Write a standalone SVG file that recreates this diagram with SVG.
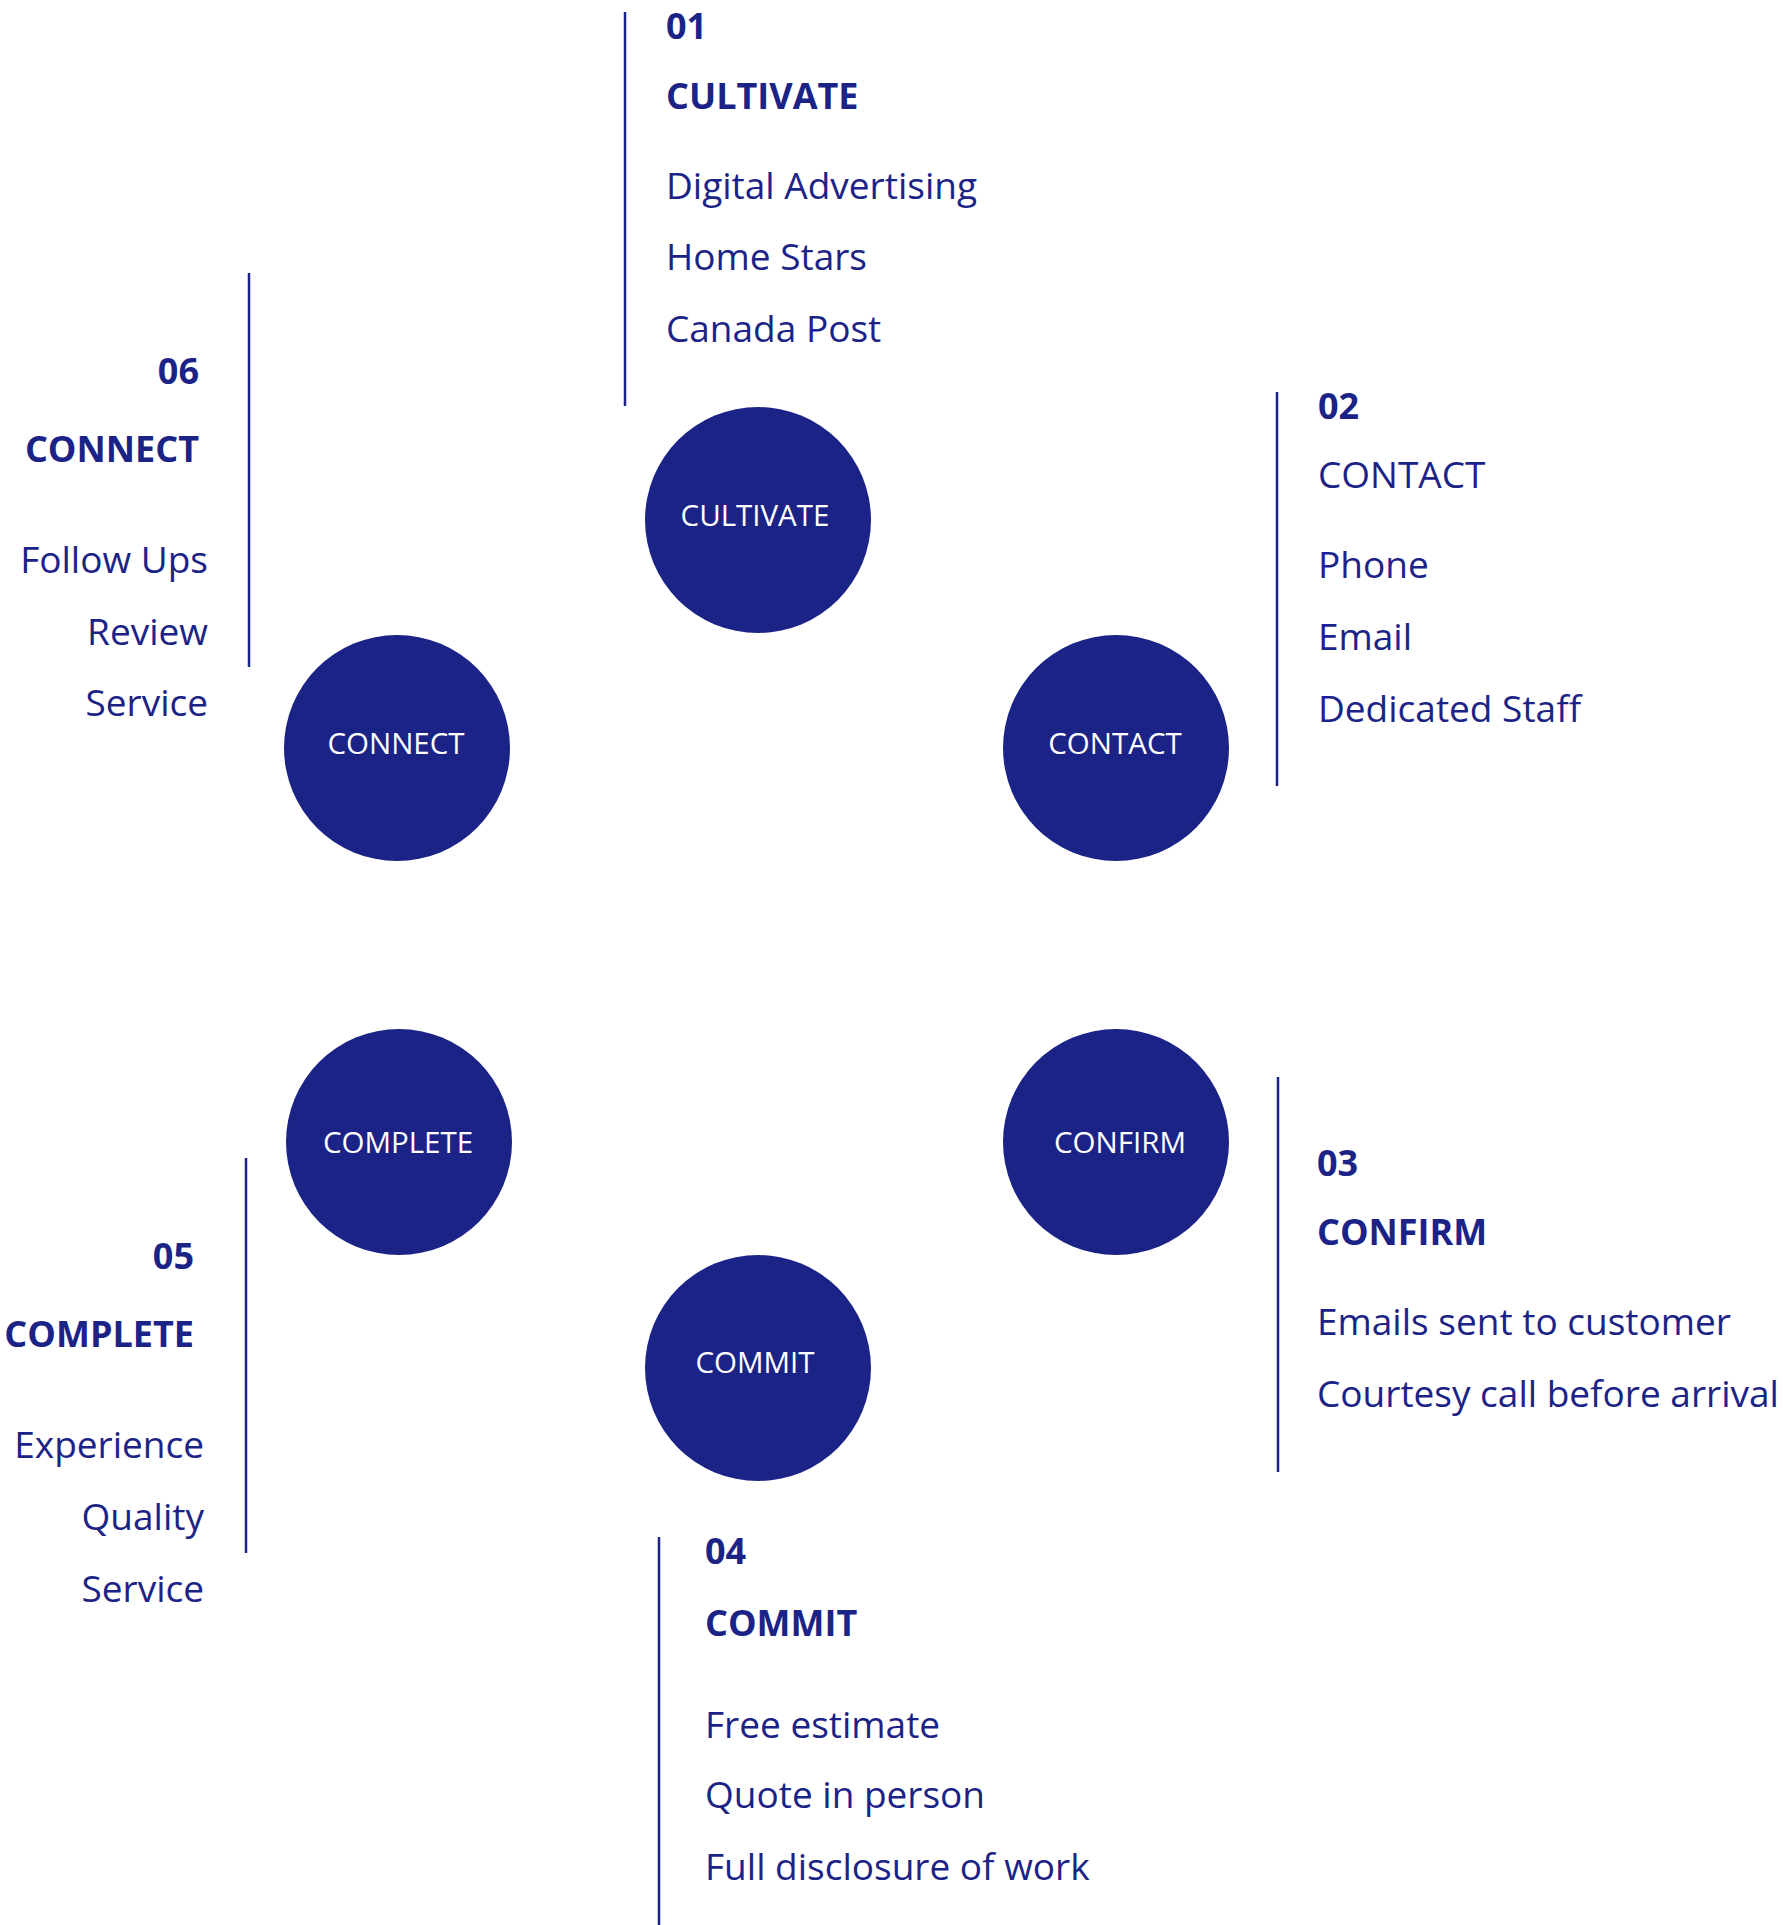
<svg xmlns="http://www.w3.org/2000/svg" width="1783" height="1925" viewBox="0 0 1783 1925">
<style>
  .bg { fill: #ffffff; }
  .dot { fill: #1c2387; }
  .lbl { fill: #ffffff; font-family: "Open Sans", "Liberation Sans", sans-serif; font-size: 29.5px; text-anchor: middle; }
  .num { fill: #1c2387; font-family: "Open Sans", "Liberation Sans", sans-serif; font-size: 36px; font-weight: bold; }
  .head { fill: #1c2387; font-family: "Open Sans", "Liberation Sans", sans-serif; font-size: 36px; font-weight: bold; }
  .headr { fill: #1c2387; font-family: "Open Sans", "Liberation Sans", sans-serif; font-size: 37px; }
  .item { fill: #1c2387; font-family: "Open Sans", "Liberation Sans", sans-serif; font-size: 37px; }
  .end { text-anchor: end; }
  .rule { stroke: #1c2387; stroke-width: 2.5; fill: none; }
</style>
<rect class="bg" x="0" y="0" width="1783" height="1925"/>

<g id="connectors">
  <line class="rule" x1="625" y1="12" x2="625" y2="406"/>
  <line class="rule" x1="1277" y1="392" x2="1277" y2="786"/>
  <line class="rule" x1="1278" y1="1077" x2="1278" y2="1472"/>
  <line class="rule" x1="659" y1="1537" x2="659" y2="1925"/>
  <line class="rule" x1="246" y1="1158" x2="246" y2="1553"/>
  <line class="rule" x1="249" y1="273" x2="249" y2="667"/>
</g>

<g id="node-cultivate">
  <circle class="dot" cx="758" cy="520" r="113"/>
  <text class="lbl" x="755" y="526">CULTIVATE</text>
</g>
<g id="node-contact">
  <circle class="dot" cx="1116" cy="748" r="113"/>
  <text class="lbl" x="1115" y="754">CONTACT</text>
</g>
<g id="node-confirm">
  <circle class="dot" cx="1116" cy="1142" r="113"/>
  <text class="lbl" x="1120" y="1153">CONFIRM</text>
</g>
<g id="node-commit">
  <circle class="dot" cx="758" cy="1368" r="113"/>
  <text class="lbl" x="755" y="1373">COMMIT</text>
</g>
<g id="node-complete">
  <circle class="dot" cx="399" cy="1142" r="113"/>
  <text class="lbl" x="398" y="1153">COMPLETE</text>
</g>
<g id="node-connect">
  <circle class="dot" cx="397" cy="748" r="113"/>
  <text class="lbl" x="396" y="754">CONNECT</text>
</g>

<g id="text-01">
  <text class="num" x="666" y="39">01</text>
  <text class="head" x="666" y="109">CULTIVATE</text>
  <text class="item" x="666" y="199">Digital Advertising</text>
  <text class="item" x="666" y="270">Home Stars</text>
  <text class="item" x="666" y="342">Canada Post</text>
</g>

<g id="text-02">
  <text class="num" x="1318" y="419">02</text>
  <text class="headr" x="1318" y="488">CONTACT</text>
  <text class="item" x="1318" y="578">Phone</text>
  <text class="item" x="1318" y="650">Email</text>
  <text class="item" x="1318" y="722">Dedicated Staff</text>
</g>

<g id="text-03">
  <text class="num" x="1317" y="1176">03</text>
  <text class="head" x="1317" y="1245">CONFIRM</text>
  <text class="item" x="1317" y="1335">Emails sent to customer</text>
  <text class="item" x="1317" y="1407">Courtesy call before arrival</text>
</g>

<g id="text-04">
  <text class="num" x="705" y="1564">04</text>
  <text class="head" x="705" y="1636">COMMIT</text>
  <text class="item" x="705" y="1738">Free estimate</text>
  <text class="item" x="705" y="1808">Quote in person</text>
  <text class="item" x="705" y="1880">Full disclosure of work</text>
</g>

<g id="text-05">
  <text class="num end" x="194" y="1269">05</text>
  <text class="head end" x="194" y="1347">COMPLETE</text>
  <text class="item end" x="204" y="1458">Experience</text>
  <text class="item end" x="204" y="1530">Quality</text>
  <text class="item end" x="204" y="1602">Service</text>
</g>

<g id="text-06">
  <text class="num end" x="199" y="384">06</text>
  <text class="head end" x="199" y="462">CONNECT</text>
  <text class="item end" x="208" y="573">Follow Ups</text>
  <text class="item end" x="208" y="645">Review</text>
  <text class="item end" x="208" y="716">Service</text>
</g>
</svg>
